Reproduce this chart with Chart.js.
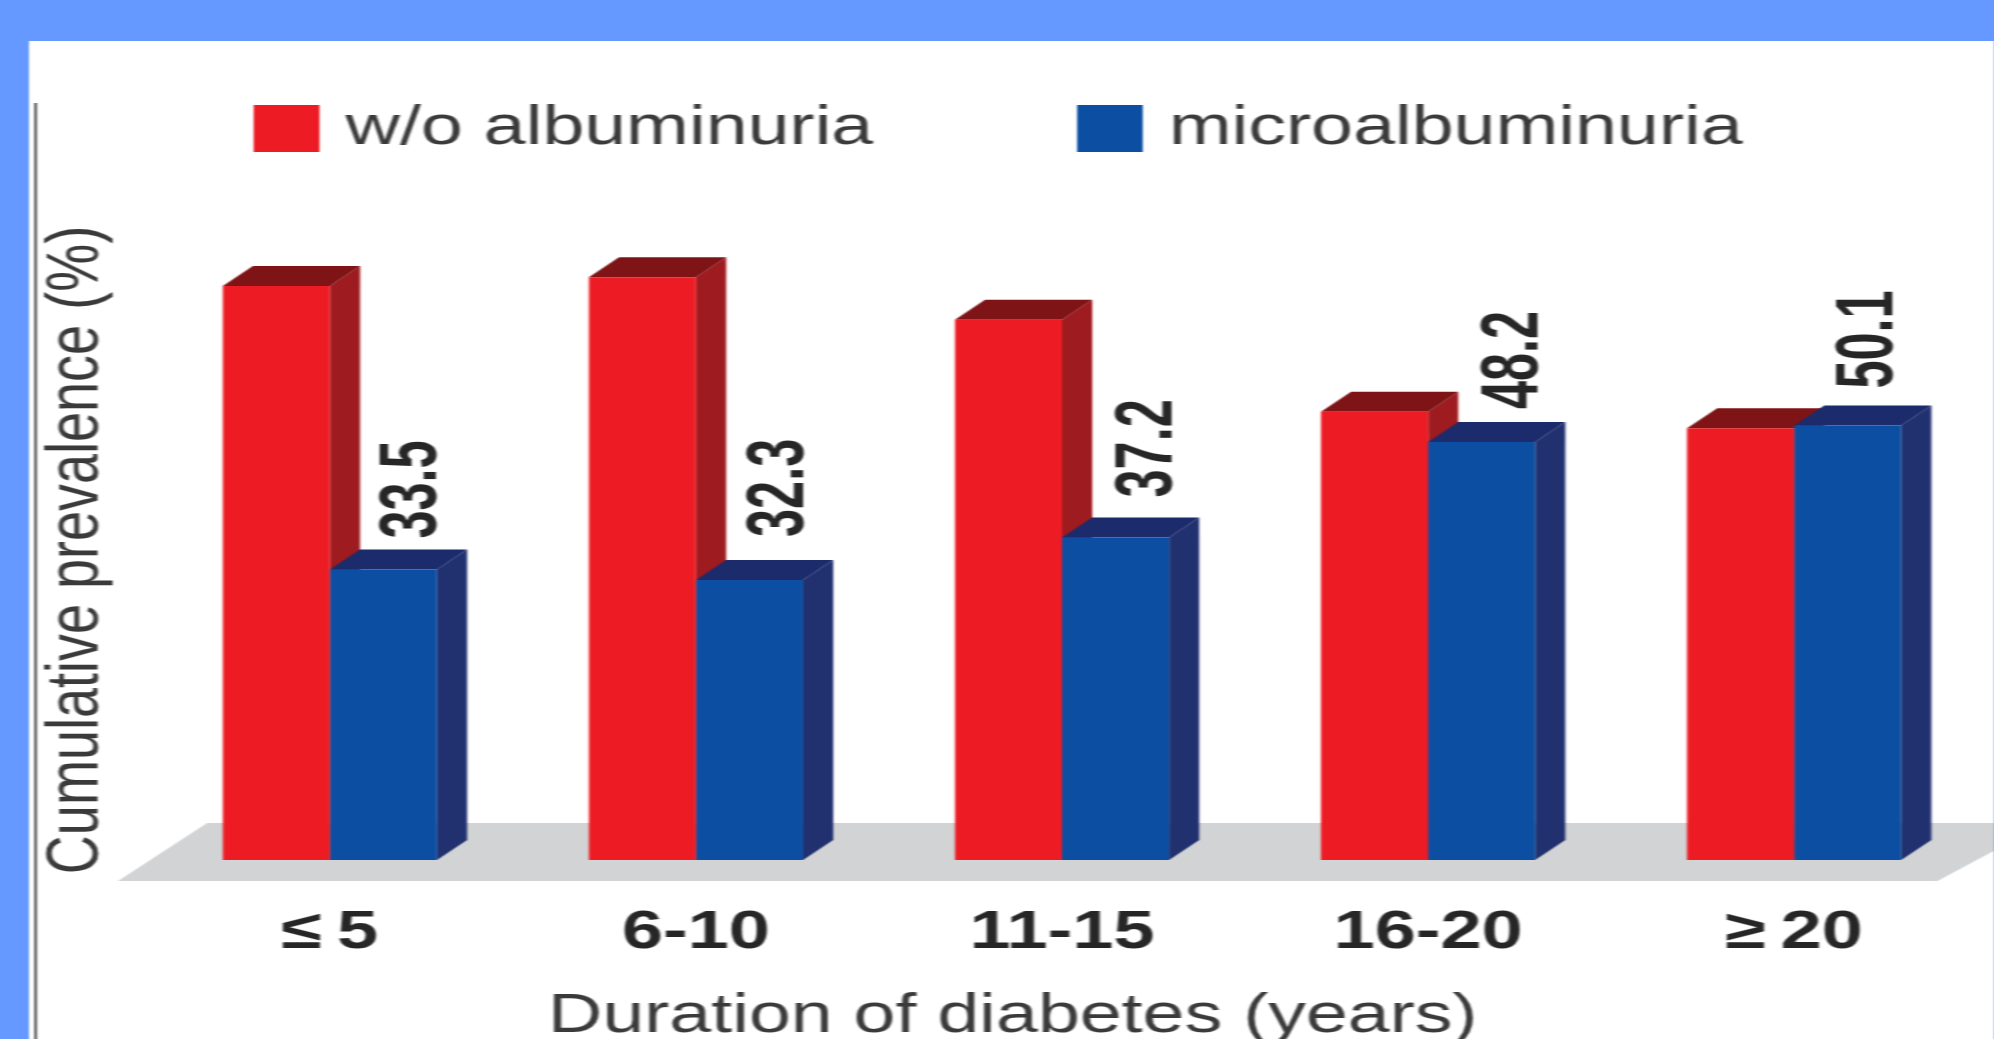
<!DOCTYPE html>
<html>
<head>
<meta charset="utf-8">
<title>Cumulative prevalence</title>
<script src="https://cdn.jsdelivr.net/npm/chart.js@4"></script>
<style>
  html, body { margin: 0; height: 100%; background: #6699ff; overflow: hidden; }
  /* the source picture is stretched sideways and soft, so the whole canvas is too */
  #box { position: absolute; left: 29px; top: 41px; transform: scaleX(1.37); transform-origin: 0 0; background: #fff; filter: blur(0.7px); }
  canvas { display: block; }
</style>
</head>
<body>
<div id="box"><canvas id="chart" width="1434" height="998"></canvas></div>
<script>
const categories = ['≤\u20095', '6-10', '11-15', '16-20', '≥\u200920'];
const withoutAlbuminuria = [66.2, 67.2, 62.3, 51.7, 49.8];
const microalbuminuria = [33.5, 32.3, 37.2, 48.2, 50.1];
const seriesNames = ['w/o albuminuria', 'microalbuminuria'];
const yTitle = 'Cumulative prevalence (%)';
const xTitle = 'Duration of diabetes (years)';

const sans = '"Liberation Sans", Arial, sans-serif';
const depthX = 22, depthY = 20;
// label tweaks per group, the printed numbers do not sit evenly
const labelShiftX = [22, 23, 24, 24, 16];
const labelShiftY = [-31, -43, -40, -33, -37];

const faces = [
  { top: '#7f1416', side: '#9e1b1f' },
  { top: '#1c2b6c', side: '#21306f' }
];

function poly(ctx, color, pts) {
  ctx.fillStyle = color;
  ctx.beginPath();
  pts.forEach((p, i) => i ? ctx.lineTo(p[0], p[1]) : ctx.moveTo(p[0], p[1]));
  ctx.closePath();
  ctx.fill();
}

// floor, rule on the far left, then the depth faces of the bars (red first, blue over it)
const floorAndDepth = {
  id: 'floorAndDepth',
  beforeDatasetsDraw(chart) {
    const ctx = chart.ctx;
    const base = chart.scales.y.getPixelForValue(0);
    const left = chart.chartArea.left, right = chart.chartArea.right;
    poly(ctx, '#d1d3d4', [[left - 21, base + 21], [left + 44, base - 37], [right + 50, base - 37], [right - 29, base + 21]]);
    ctx.fillStyle = '#222';
    ctx.fillRect(4, 62, 1.5, 940);

    faces.forEach((f, d) => {
      chart.getDatasetMeta(d).data.forEach(bar => {
        const l = bar.x - bar.width / 2, r = bar.x + bar.width / 2;
        poly(ctx, f.side, [[r, bar.y], [r + depthX, bar.y - depthY], [r + depthX, bar.base - depthY], [r, bar.base]]);
        poly(ctx, f.top, [[l, bar.y], [l + depthX, bar.y - depthY], [r + depthX, bar.y - depthY], [r, bar.y]]);
      });
    });
  }
};

// value labels, legend and the x title
const chartText = {
  id: 'chartText',
  afterDatasetsDraw(chart) {
    const ctx = chart.ctx;
    ctx.save();
    ctx.fillStyle = '#262626';
    ctx.font = 'bold 60px ' + sans;
    ctx.textAlign = 'left';
    ctx.textBaseline = 'middle';
    chart.getDatasetMeta(1).data.forEach((bar, i) => {
      ctx.save();
      ctx.translate(bar.x + labelShiftX[i], bar.y + labelShiftY[i]);
      ctx.rotate(-Math.PI / 2);
      ctx.scale(0.84, 1); // the printed numbers are condensed
      ctx.fillText(microalbuminuria[i].toFixed(1), 0, 0);
      ctx.restore();
    });

    ctx.font = '55px ' + sans;
    ctx.textBaseline = 'alphabetic';
    ctx.fillStyle = '#3a3a3a';
    ctx.textAlign = 'center';
    ctx.fillText(xTitle, 718, 991);
    ctx.textAlign = 'left';
    [[164, 48], [765, 48]].forEach((pos, i) => {
      ctx.fillStyle = chart.data.datasets[i].backgroundColor;
      ctx.fillRect(pos[0], pos[1] + 16, 48, 47);
      ctx.fillStyle = '#3a3a3a';
      ctx.fillText(seriesNames[i], pos[0] + 67, pos[1] + 55);
    });
    ctx.restore();
  }
};

new Chart(document.getElementById('chart'), {
  type: 'bar',
  data: {
    labels: categories,
    datasets: [
      { label: seriesNames[0], data: withoutAlbuminuria, backgroundColor: '#ed1c24' },
      { label: seriesNames[1], data: microalbuminuria, backgroundColor: '#0b4ea2' }
    ]
  },
  options: {
    responsive: false,
    animation: false,
    layout: { padding: { left: 3, right: 12, top: 199, bottom: 0 } },
    datasets: { bar: { barPercentage: 1, categoryPercentage: 0.585 } },
    plugins: { legend: { display: false }, tooltip: { enabled: false } },
    scales: {
      x: {
        grid: { display: false },
        border: { display: false },
        ticks: {
          autoSkip: false, maxRotation: 0, padding: 38, color: '#262626',
          font: { family: sans, size: 54, weight: 'bold', lineHeight: 1 }
        },
        afterFit(scale) { scale.height = 179; }
      },
      y: {
        min: 0,
        max: 71.5,
        grid: { display: false },
        border: { display: false },
        ticks: { display: false },
        title: {
          display: true, text: yTitle, color: '#3a3a3a', padding: { top: 5, bottom: 0 },
          font: { family: sans, size: 54, lineHeight: 1 }
        },
        afterFit(scale) { scale.width = 83; }
      }
    }
  },
  plugins: [floorAndDepth, chartText]
});
</script>
</body>
</html>
